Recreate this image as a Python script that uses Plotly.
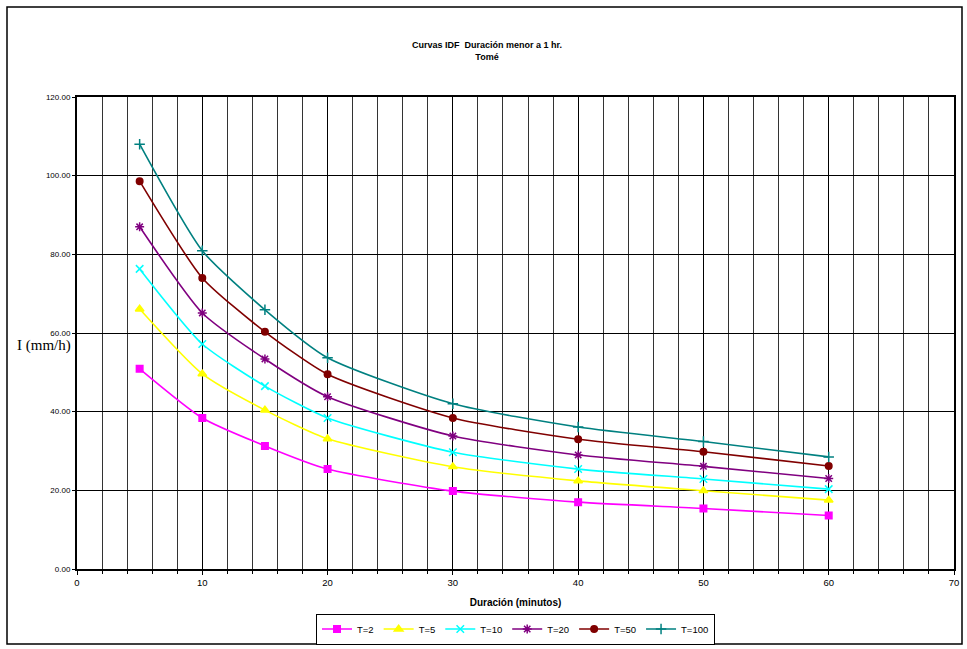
import plotly.graph_objects as go

durations = [5, 10, 15, 20, 30, 40, 50, 60]
t2 = [50.9, 38.4, 31.3, 25.4, 19.8, 17.0, 15.4, 13.6]
t5 = [66.1, 49.6, 40.4, 33.1, 26.0, 22.4, 19.9, 17.5]
t10 = [76.3, 57.2, 46.5, 38.4, 29.7, 25.4, 22.9, 20.3]
t20 = [87.0, 65.1, 53.4, 43.8, 33.8, 29.0, 26.1, 23.0]
t50 = [98.6, 74.0, 60.3, 49.5, 38.4, 33.0, 29.8, 26.2]
t100 = [108.0, 80.9, 65.9, 53.7, 42.0, 36.1, 32.4, 28.5]

series_names = ["T=2", "T=5", "T=10", "T=20", "T=50", "T=100"]
series_values = [t2, t5, t10, t20, t50, t100]
colors = ["#FF00FF", "#FFFF00", "#00FFFF", "#800080", "#800000", "#008080"]
symbols = ["square", "triangle-up", "x-thin-open", "asterisk-open", "circle", "cross-thin-open"]
msizes = [6.5, 7.5, 7.5, 7.5, 6.5, 7.5]

x_ticks = [0, 10, 20, 30, 40, 50, 60, 70]
y_ticks = [0, 20, 40, 60, 80, 100, 120]

fig = go.Figure()
for name, vals, c, s, ms in zip(series_names, series_values, colors, symbols, msizes):
    fig.add_trace(go.Scatter(
        x=durations, y=vals, name=name, mode="lines+markers",
        line=dict(color=c, width=1.6, shape="spline", smoothing=0.6),
        marker=dict(symbol=s, size=ms, color=c, line=dict(color=c, width=1.5)),
    ))

W, H = 967, 649
L, R, T, B = 77, 13, 97, 80
pw, ph = W - L - R, H - T - B

def px2x(p):
    return (p - L) / pw

def px2y(p):
    return (H - B - p) / ph

fig.update_layout(
    width=W, height=H,
    margin=dict(l=L, r=R, t=T, b=B, autoexpand=False),
    paper_bgcolor="white", plot_bgcolor="white",
    font=dict(family="Liberation Sans, Arial", color="black"),
    showlegend=True,
    legend=dict(
        orientation="h", x=0.5, xanchor="center", y=px2y(629), yanchor="middle",
        bordercolor="black", borderwidth=1, font=dict(size=9.5),
        itemwidth=30, tracegroupgap=0,
    ),
    xaxis=dict(
        range=[0, 70], tickvals=x_ticks, ticktext=[str(v) for v in x_ticks],
        showgrid=True, gridcolor="black", gridwidth=1,
        minor=dict(dtick=2, showgrid=True, gridcolor="#333333", gridwidth=1,
                   ticks="outside", ticklen=3, tickcolor="black"),
        ticks="outside", ticklen=4, tickcolor="black",
        showline=True, linecolor="black", linewidth=2, mirror=True,
        tickfont=dict(size=9.5), zeroline=False,
        title=dict(text="<b>Duración (minutos)</b>", font=dict(size=10), standoff=12),
    ),
    yaxis=dict(
        range=[0, 120], tickvals=y_ticks, tickformat=".2f",
        showgrid=True, gridcolor="black", gridwidth=1,
        ticks="outside", ticklen=3, tickcolor="black",
        showline=True, linecolor="black", linewidth=2, mirror=True,
        tickfont=dict(size=8), zeroline=False,
    ),
    annotations=[
        dict(text="<b>Curvas IDF  Duración menor a 1 hr.<br>Tomé</b>",
             xref="paper", yref="paper", x=px2x(487), y=px2y(51),
             xanchor="center", yanchor="middle", showarrow=False,
             font=dict(size=9), align="center"),
        dict(text="I (mm/h)", xref="paper", yref="paper",
             x=px2x(44), y=px2y(345), xanchor="center", yanchor="middle",
             showarrow=False, font=dict(family="Liberation Serif, Times New Roman", size=15)),
    ],
    shapes=[
        dict(type="rect", xref="paper", yref="paper",
             x0=px2x(7), x1=px2x(962), y0=px2y(644), y1=px2y(7),
             line=dict(color="black", width=1.5), fillcolor="rgba(0,0,0,0)", layer="below"),
    ],
)

fig.write_html("out.html")
